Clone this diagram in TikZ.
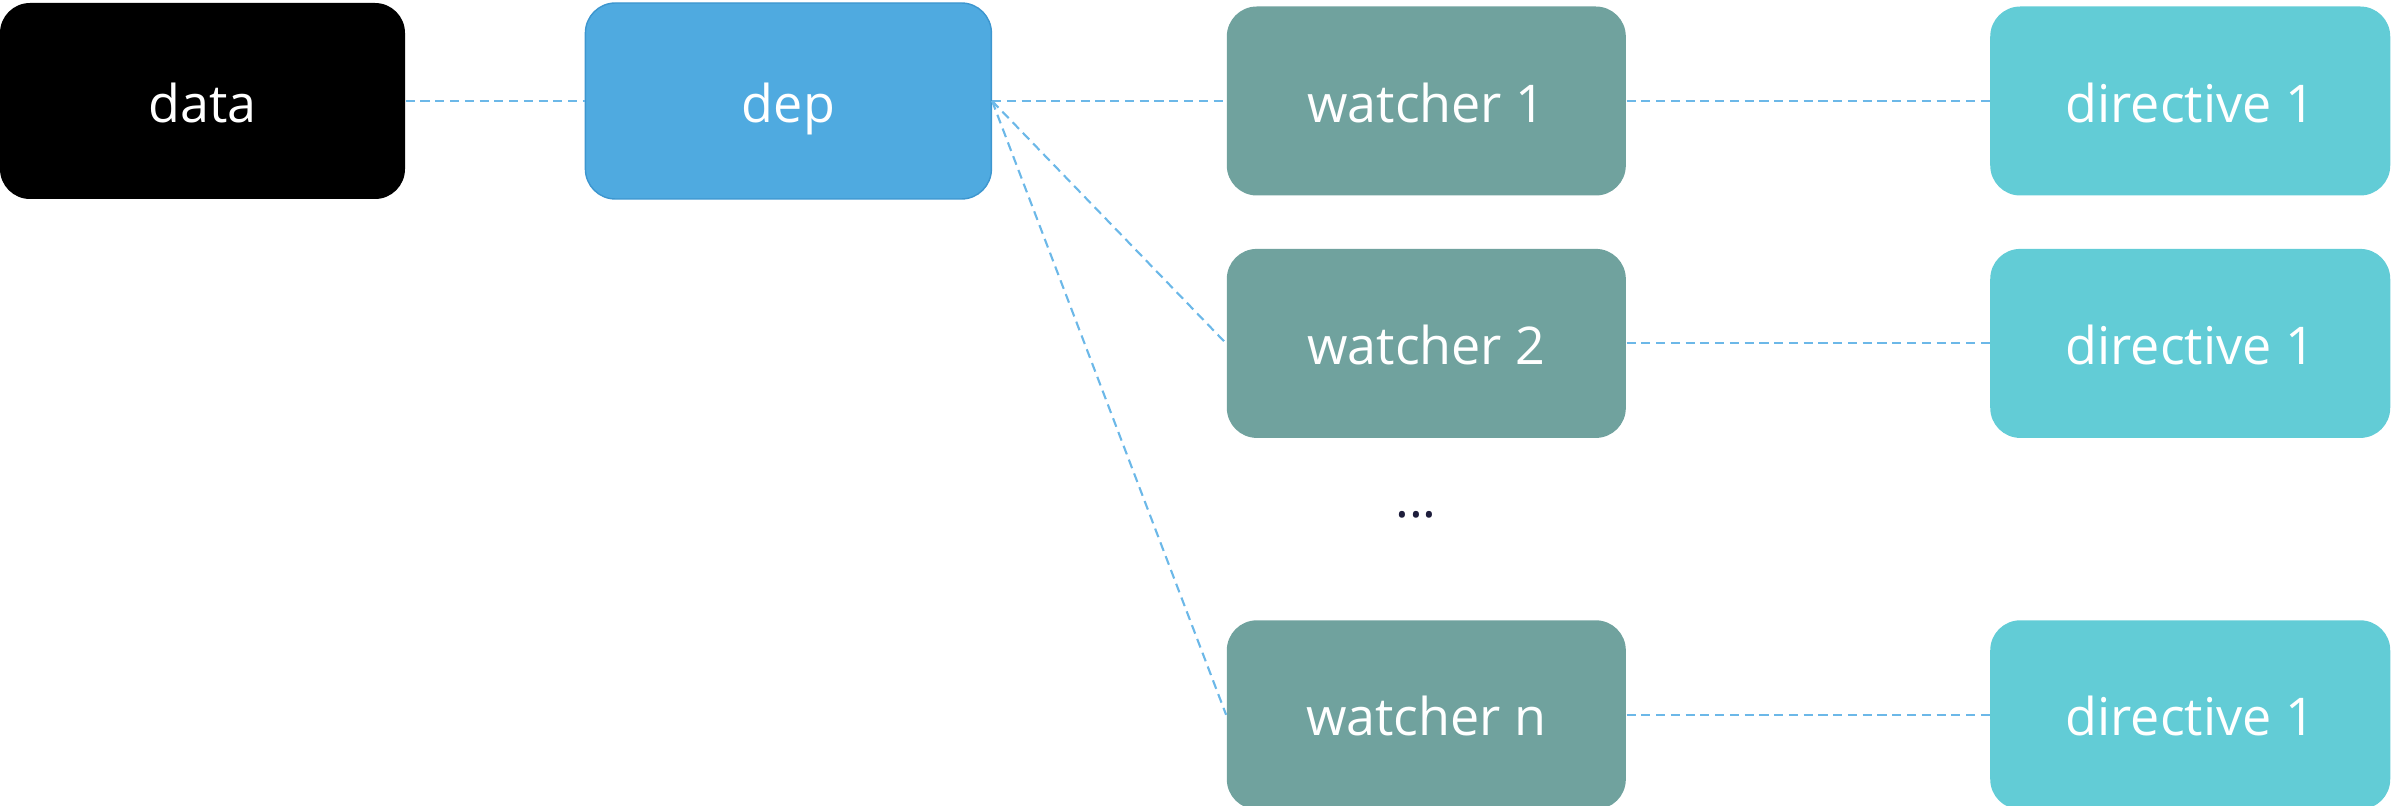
\documentclass[tikz,border=0pt]{standalone}
\usepackage{fontspec}
\setmainfont{Open Sans}
\usetikzlibrary{positioning}

\definecolor{depblue}{RGB}{79,170,224}
\definecolor{depline}{RGB}{61,150,207}
\definecolor{watchgreen}{RGB}{112,162,158}
\definecolor{dircyan}{RGB}{98,204,214}
\definecolor{linkblue}{RGB}{108,184,232}
\definecolor{dotnavy}{RGB}{30,30,60}

\begin{document}
\begin{tikzpicture}[auto, node distance=2cm,
                    box/.style={rectangle,rounded corners=0.3cm,minimum width=4cm,
                                text=white,text height=12pt,text depth=0pt,
                                font=\fontsize{14.8}{17}\selectfont},
                    data box/.style={box,fill=black,minimum width=4.05cm,minimum height=1.96cm},
                    dep box/.style={box,fill=depblue,draw=depline,line width=0.4pt,minimum width=4.06cm,minimum height=1.96cm},
                    watch box/.style={box,fill=watchgreen,minimum width=3.99cm,minimum height=1.89cm},
                    dir box/.style={box,fill=dircyan,minimum height=1.89cm},
                    link/.style={draw=linkblue,line width=0.6pt,dash pattern=on 2.6pt off 1.6pt}]

  \useasboundingbox (0,0) rectangle (23.96,-8.06);

  \node[data box] (data) at (2.025,-1.01) {data};
  \node[dep box] (dep) [right=1.79cm of data] {dep};
  \node[watch box] (w1) [right=2.34cm of dep] {watcher 1};
  \node[watch box] (w2) [below=0.52cm of w1] {watcher 2};
  \node[watch box] (wn) [below=1.81cm of w2] {watcher n};
  \node[dir box] (d1) [right=3.63cm of w1] {directive 1};
  \node[dir box] (d2) [right=3.63cm of w2] {directive 1};
  \node[dir box] (dn) [right=3.63cm of wn] {directive 1};
  \node[text=dotnavy,font=\fontsize{14.8}{17}\selectfont] (dots) at (14.16,-5.15) {...};

\path[link]
       (data) edge (dep)
       (dep.east) edge (w1.west)
       (dep.east) edge (w2.west)
       (dep.east) edge (wn.west)
       (w1) edge (d1)
       (w2) edge (d2)
       (wn) edge (dn)
  ;

\end{tikzpicture}
\end{document}
